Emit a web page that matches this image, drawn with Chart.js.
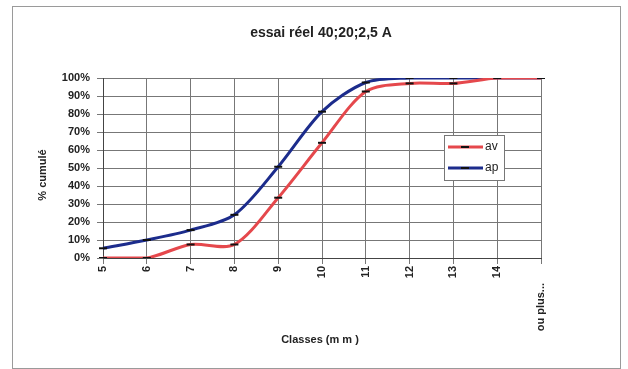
<!DOCTYPE html>
<html>
<head>
<meta charset="utf-8">
<script src="https://cdn.jsdelivr.net/npm/chart.js@4.4.1/dist/chart.umd.min.js"></script>
<style>
  html, body { margin: 0; padding: 0; background: #fff; }
</style>
</head>
<body>
<canvas id="chart" width="628" height="369"></canvas>
<script>
// data (% cumulé per class)
const classes = ['5', '6', '7', '8', '9', '10', '11', '12', '13', '14', 'ou plus...'];
const av = [0, 0, 7.5, 7.5, 33.5, 64, 92.5, 97, 97, 100, 100];
const ap = [5.4, 10, 15.5, 24, 50.7, 81.3, 97.5, 100, 100, 100, 100];
const yTicks = [0, 10, 20, 30, 40, 50, 60, 70, 80, 90, 100];

const chartTitle = 'essai réel 40;20;2,5 A';
const xTitle = 'Classes (m m )';
const yTitle = '% cumulé';

const RED = '#e5484c';
const BLUE = '#1c2c8c';
const FONT = '"Liberation Sans", Arial, sans-serif';

// draws the frame, titles, rotated class labels and the boxed legend
const decorations = {
    id: 'decorations',
    beforeDraw(chart) {
        const ctx = chart.ctx;
        ctx.save();
        ctx.fillStyle = '#fff';
        ctx.fillRect(0, 0, chart.width, chart.height);
        ctx.strokeStyle = '#9a9a9a';
        ctx.lineWidth = 1;
        ctx.strokeRect(12.5, 6.5, 608, 362);
        ctx.restore();
    },
    afterDraw(chart) {
        const ctx = chart.ctx;
        const x = chart.scales.x;
        const area = chart.chartArea;
        ctx.save();
        ctx.fillStyle = '#222';

        // title
        ctx.font = 'bold 14px ' + FONT;
        ctx.textAlign = 'center';
        ctx.textBaseline = 'middle';
        ctx.fillText(chartTitle, 321, 33);

        // class labels, read bottom to top
        ctx.font = 'bold 11px ' + FONT;
        classes.forEach(function(label, i) {
            const px = x.getPixelForTick(i);
            const top = i === classes.length - 1 ? area.bottom + 25 : area.bottom + 8;
            ctx.save();
            ctx.translate(px, top);
            ctx.rotate(-Math.PI / 2);
            ctx.textAlign = 'right';
            ctx.textBaseline = 'middle';
            ctx.fillText(label, 0, 0);
            ctx.restore();
        });

        // axis titles
        ctx.font = 'bold 11px ' + FONT;
        ctx.textAlign = 'center';
        ctx.textBaseline = 'middle';
        ctx.fillText(xTitle, 320, 340);
        ctx.save();
        ctx.translate(43, 175);
        ctx.rotate(-Math.PI / 2);
        ctx.fillText(yTitle, 0, 0);
        ctx.restore();

        // legend box
        ctx.fillStyle = '#fff';
        ctx.fillRect(444, 135, 60, 45);
        ctx.strokeStyle = '#777';
        ctx.lineWidth = 1;
        ctx.strokeRect(444.5, 135.5, 60, 45);
        chart.data.datasets.forEach(function(ds, i) {
            const ly = 147 + i * 21;
            ctx.strokeStyle = ds.borderColor;
            ctx.lineWidth = 3;
            ctx.beginPath();
            ctx.moveTo(448, ly);
            ctx.lineTo(483, ly);
            ctx.stroke();
            ctx.strokeStyle = '#111';
            ctx.lineWidth = 2;
            ctx.beginPath();
            ctx.moveTo(461, ly);
            ctx.lineTo(469, ly);
            ctx.stroke();
            ctx.fillStyle = '#222';
            ctx.font = '12px ' + FONT;
            ctx.textAlign = 'left';
            ctx.fillText(ds.label, 485, ly);
        });
        ctx.restore();
    }
};

const ctx = document.getElementById('chart').getContext('2d');
const myChart = new Chart(ctx, {
    type: 'line',
    data: {
        labels: classes,
        datasets: [{
            label: 'av',
            data: av,
            borderColor: RED,
            backgroundColor: RED,
            borderWidth: 3,
            tension: 0.3,
            pointStyle: 'line',
            pointRadius: 4,
            pointBorderWidth: 2,
            pointBorderColor: '#111',
            pointHoverRadius: 4
        }, {
            label: 'ap',
            data: ap,
            borderColor: BLUE,
            backgroundColor: BLUE,
            borderWidth: 3,
            tension: 0.3,
            pointStyle: 'line',
            pointRadius: 4,
            pointBorderWidth: 2,
            pointBorderColor: '#111',
            pointHoverRadius: 4
        }]
    },
    options: {
        responsive: false,
        animation: false,
        layout: { padding: { top: 78, right: 87, bottom: 0, left: 0 } },
        plugins: {
            legend: { display: false },
            title: { display: false },
            tooltip: { enabled: false }
        },
        scales: {
            x: {
                offset: false,
                afterFit: function(scale) { scale.height = 111; },
                grid: { color: '#777', lineWidth: 1, tickLength: 6 },
                border: { color: '#444' },
                ticks: { display: false }
            },
            y: {
                min: 0,
                max: 100,
                afterFit: function(scale) { scale.width = 103; },
                afterBuildTicks: function(scale) {
                    scale.ticks = yTicks.map(v => ({ value: v }));
                },
                grid: { color: '#777', lineWidth: 1, tickLength: 6 },
                border: { color: '#444' },
                ticks: {
                    padding: 7,
                    color: '#222',
                    font: { family: FONT, size: 11, weight: 'bold' },
                    callback: v => v + '%'
                }
            }
        }
    },
    plugins: [decorations]
});
</script>
</body>
</html>
